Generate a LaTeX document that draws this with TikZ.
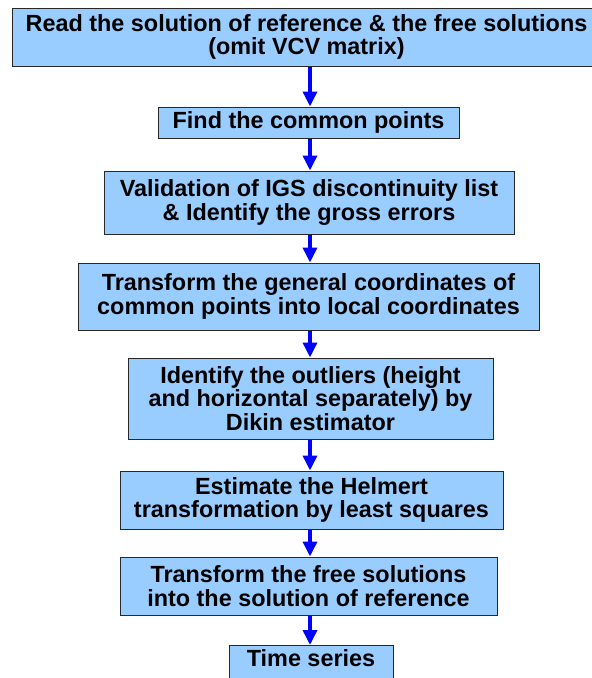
\documentclass[tikz,border=0pt]{standalone}
\usepackage{fontspec}
\setmainfont{Liberation Sans}
\usetikzlibrary{arrows.meta}
\definecolor{boxfill}{RGB}{153,204,255}
\definecolor{boxline}{RGB}{40,40,40}
\definecolor{flowblue}{RGB}{0,0,255}
\tikzset{
  stepbox/.style={draw=boxline, line width=1pt, fill=boxfill, align=center, inner sep=0pt,
    font=\fontsize{23.4}{23.5}\selectfont\bfseries},
  flow/.style={draw=flowblue, line width=3.5pt, -{Triangle[width=14pt,length=15pt]}, shorten <=0.5pt}
}
\begin{document}
\begin{tikzpicture}[x=1pt,y=-1pt]
\useasboundingbox (0,0) rectangle (592,678);
\clip (0,0) rectangle (592,678);
\coordinate (ax) at (310,0);
\node[stepbox, minimum width=589pt, minimum height=58pt] (b1) at (306.5,37)
  {Read the solution of reference \& the free solutions\\(omit VCV matrix)\rule[-2pt]{0pt}{1pt}};
\node[stepbox, minimum width=301pt, minimum height=31pt] (b2) at (308.5,122.5)
  {Find the common points};
\node[stepbox, minimum width=410pt, minimum height=63pt] (b3) at (309,202.5)
  {Validation of IGS discontinuity list\\\& Identify the gross errors};
\node[stepbox, minimum width=461pt, minimum height=67pt] (b4) at (308.5,296.5)
  {Transform the general coordinates of\\common points into local coordinates};
\node[stepbox, minimum width=365pt, minimum height=81pt] (b5) at (310.5,398.5)
  {Identify the outliers (height\\and horizontal separately) by\\Dikin estimator};
\node[stepbox, minimum width=383pt, minimum height=58pt] (b6) at (311.5,500)
  {Estimate the Helmert\\transformation by least squares};
\node[stepbox, minimum width=377pt, minimum height=58pt] (b7) at (308.5,586)
  {Transform the free solutions\\into the solution of reference};
\node[stepbox, minimum width=164pt, anchor=north, text height=21pt, text depth=19pt] (b8) at (311,645)
  {Time series};
\draw[flow] (b1.south -| ax) -- (b2.north -| ax);
\draw[flow] (b2.south -| ax) -- (b3.north -| ax);
\draw[flow] (b3.south -| ax) -- (b4.north -| ax);
\draw[flow] (b4.south -| ax) -- (b5.north -| ax);
\draw[flow] (b5.south -| ax) -- (b6.north -| ax);
\draw[flow] (b6.south -| ax) -- (b7.north -| ax);
\draw[flow] (b7.south -| ax) -- (b8.north -| ax);
\end{tikzpicture}
\end{document}
